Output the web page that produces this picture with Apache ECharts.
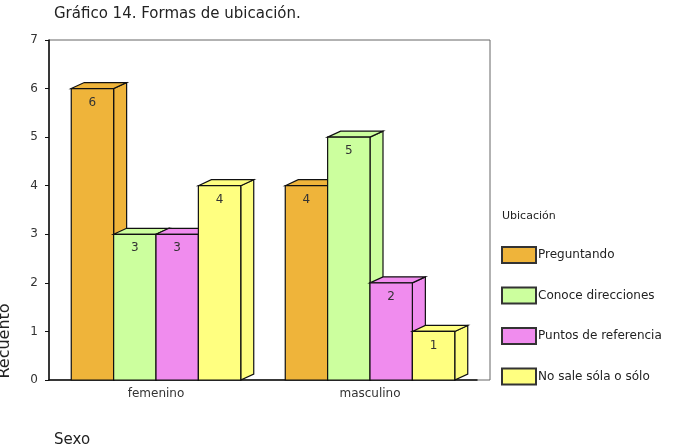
<!DOCTYPE html>
<html>
<head>
<meta charset="utf-8">
<script src="https://cdn.jsdelivr.net/npm/echarts@6/dist/echarts.min.js"></script>
<style>
  html, body { margin: 0; padding: 0; background: #fff; }
  #chart { width: 678px; height: 447px; }
</style>
</head>
<body>
<div id="chart"></div>
<script>
var sexos = ['femenino', 'masculino'];
var ubicaciones = ['Preguntando', 'Conoce direcciones', 'Puntos de referencia', 'No sale sóla o sólo'];
var preguntando = [6, 4];
var conoceDirecciones = [3, 5];
var puntosReferencia = [3, 2];
var noSale = [4, 1];
var colores = ['#EFB43A', '#CCFF9E', '#F08CEE', '#FFFF80'];

var valores = [preguntando, conoceDirecciones, puntosReferencia, noSale];
var fuente = '"DejaVu Sans", "Liberation Sans", Arial, sans-serif';

var chart = echarts.init(document.getElementById('chart'));

function barra3d(idx) {
  return function (params, api) {
    var cat = api.value(0);
    var val = api.value(1);
    var base = api.coord([cat, 0]);
    var top = api.coord([cat, val]);
    var band = api.size([1, 0])[0];
    var w = band * 0.198;
    var x = base[0] - 2 * w + idx * w;
    var y0 = base[1];
    var y1 = top[1];
    var dx = 13, dy = -6;
    var c = colores[idx];
    var st = { fill: c, stroke: '#111', lineWidth: 1.2 };
    return {
      type: 'group',
      children: [
        { type: 'polygon', shape: { points: [[x + w, y1], [x + w + dx, y1 + dy], [x + w + dx, y0 + dy], [x + w, y0]] }, style: st },
        { type: 'polygon', shape: { points: [[x, y1], [x + dx, y1 + dy], [x + w + dx, y1 + dy], [x + w, y1]] }, style: st },
        { type: 'rect', shape: { x: x, y: y1, width: w, height: y0 - y1 }, style: st },
        { type: 'text', x: x + w / 2, y: y1 + 14, style: { text: String(val), fill: '#333', font: '12px ' + fuente, align: 'center', verticalAlign: 'middle' } }
      ]
    };
  };
}

var series = ubicaciones.map(function (name, i) {
  return {
    type: 'custom',
    name: name,
    renderItem: barra3d(i),
    itemStyle: { color: colores[i], borderColor: '#333', borderWidth: 1.5 },
    encode: { x: 0, y: 1 },
    data: sexos.map(function (s, j) { return [j, valores[i][j]]; })
  };
});

chart.setOption({
  animation: false,
  textStyle: { fontFamily: fuente },
  title: [
    { text: 'Gráfico 14. Formas de ubicación.', left: 49, top: 2,
      textStyle: { fontFamily: '"Comic Sans MS", "DejaVu Sans", sans-serif', fontSize: 15, fontWeight: 'normal', color: '#222' } },
    { text: 'Ubicación', left: 497, top: 206,
      textStyle: { fontFamily: '"Comic Sans MS", "DejaVu Sans", sans-serif', fontSize: 11, fontWeight: 'normal', color: '#222' } },
    { text: 'Sexo', left: 49, top: 428,
      textStyle: { fontSize: 15, fontWeight: 'normal', color: '#222' } }
  ],
  legend: {
    orient: 'vertical', left: 501, top: 246, padding: 0,
    itemWidth: 34, itemHeight: 16, itemGap: 22.5,
    icon: 'rect',
    data: ubicaciones,
    textStyle: { fontSize: 12, color: '#222', padding: [0, 0, 0, -3] }
  },
  grid: { left: 49, right: 201, top: 40, bottom: 67 },
  graphic: [
    { type: 'rect', shape: { x: 49, y: 40, width: 441, height: 340 }, style: { fill: 'none', stroke: '#666', lineWidth: 1 }, z: 0 },
    { type: 'text', x: 5, y: 341, rotation: Math.PI / 2,
      style: { text: 'Recuento', font: '16px ' + fuente, fill: '#222', align: 'center', verticalAlign: 'middle' } }
  ],
  xAxis: {
    type: 'category', data: sexos,
    axisLine: { lineStyle: { color: '#111', width: 1.5 } },
    axisTick: { alignWithLabel: true, length: 4, lineStyle: { color: '#111' } },
    axisLabel: { color: '#333', fontSize: 12, margin: 8 }
  },
  yAxis: {
    type: 'value', min: 0, max: 7, interval: 1,
    axisLine: { show: true, lineStyle: { color: '#111', width: 1.5 } },
    axisTick: { show: true, length: 4, lineStyle: { color: '#111' } },
    axisLabel: { color: '#333', fontSize: 12, margin: 11 },
    splitLine: { show: false }
  },
  series: series
});
</script>
</body>
</html>
